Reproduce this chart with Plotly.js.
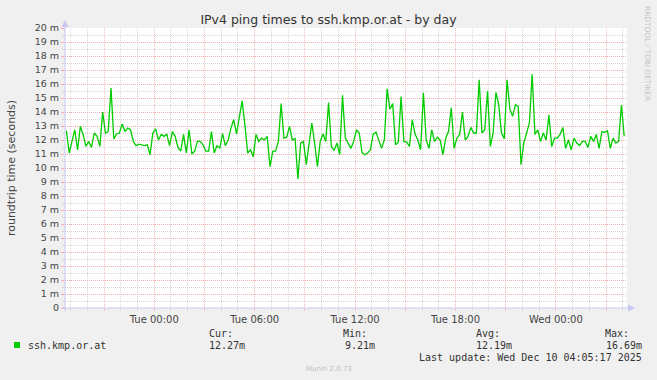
<!DOCTYPE html>
<html><head><meta charset="utf-8">
<script src="https://cdn.plot.ly/plotly-3.0.1.min.js"></script>
<style>html,body{margin:0;padding:0;background:#f0f0f0;}#chart{width:657px;height:380px;}</style>
</head><body><div id="chart"></div>
<script>
// ---- data ----
const seriesName = 'ssh.kmp.or.at';
const startUTC = Date.UTC(2025, 11, 8, 18, 45, 0); // Mon 18:45
const stepMinutes = 10;
const pingMs = [
12.67,11.07,11.9,12.73,11.3,12.97,12.4,11.55,11.9,11.47,
12.5,12.26,11.54,14.0,12.5,12.6,15.72,12.07,12.43,12.5,
13.14,12.6,12.85,12.73,11.9,11.6,11.7,11.66,11.6,11.66,
10.95,12.5,12.8,12.0,12.4,12.26,12.4,11.6,12.6,12.26,
11.47,11.2,12.4,11.07,12.73,11.0,11.2,11.9,11.9,11.66,
11.2,11.2,12.6,11.07,11.6,11.4,12.45,11.6,12.0,12.85,
13.45,12.43,13.6,14.8,13.1,11.07,11.3,10.8,12.4,11.9,
12.13,12.0,12.26,10.1,11.2,11.2,11.9,14.6,12.13,12.2,
12.97,12.0,12.1,9.21,11.78,11.9,10.24,11.78,13.2,11.78,
10.1,11.9,12.43,11.9,14.68,11.54,11.25,11.78,10.95,15.2,
12.13,11.78,11.4,11.9,12.73,12.5,11.1,10.95,11.07,11.3,
12.4,12.56,12.0,11.4,12.0,15.65,14.2,14.6,11.66,11.85,
15.1,11.9,11.85,11.54,13.45,12.43,12.0,11.3,15.37,12.0,
11.4,12.73,11.9,12.2,12.0,10.95,12.13,12.6,14.3,11.4,
12.13,12.4,14.0,12.0,12.26,12.9,12.5,12.5,16.3,12.5,
12.73,15.5,11.54,12.5,15.4,14.52,12.5,12.1,16.3,14.2,
13.7,14.52,14.4,10.24,11.78,12.5,13.2,16.69,12.4,12.73,
11.9,12.5,12.0,13.8,11.54,12.13,12.13,12.4,12.9,11.4,
12.0,11.3,12.13,11.78,11.6,11.9,11.9,11.47,12.26,11.9,
12.4,11.4,12.6,12.55,12.66,11.4,12.13,11.78,11.9,14.5,
12.27
];
const xRange = ['2025-12-08 18:40', '2025-12-10 04:15'];
const xTickVals = ['2025-12-08 21:00','2025-12-09 00:00','2025-12-09 03:00','2025-12-09 06:00','2025-12-09 09:00','2025-12-09 12:00','2025-12-09 15:00','2025-12-09 18:00','2025-12-09 21:00','2025-12-10 00:00','2025-12-10 03:00'];
const xTickText = ['','Tue 00:00','','Tue 06:00','','Tue 12:00','','Tue 18:00','','Wed 00:00',''];
const yTickVals = [0,1,2,3,4,5,6,7,8,9,10,11,12,13,14,15,16,17,18,19,20];
const yTickText = ['0','1 m','2 m','3 m','4 m','5 m','6 m','7 m','8 m','9 m','10 m','11 m','12 m','13 m','14 m','15 m','16 m','17 m','18 m','19 m','20 m'];
const statLabels = ['Cur:','Min:','Avg:','Max:'];
const statValues = ['12.27m','9.21m','12.19m','16.69m'];
const titleText = 'IPv4 ping times to ssh.kmp.or.at - by day';
const yTitle = 'roundtrip time (seconds)';
const lastUpdate = 'Last update: Wed Dec 10 04:05:17 2025';
const footer = 'Munin 2.0.73';
const sideText = 'RRDTOOL / TOBI OETIKER';

// ---- build ----
const p2=n=>String(n).padStart(2,'0');
function fmt(ms){const d=new Date(ms);
  return d.getUTCFullYear()+'-'+p2(d.getUTCMonth()+1)+'-'+p2(d.getUTCDate())+' '+p2(d.getUTCHours())+':'+p2(d.getUTCMinutes())+':00';}
const times = pingMs.map((v,i)=>fmt(startUTC + i*stepMinutes*60000));

// minor grid positions: every hour / every half unit, skipping the major positions
const xMinor=[]; for(let h=19; h<=28+24; h++){ if(h%3!==0){ xMinor.push(fmt(Date.UTC(2025,11,8,h,0,0))); } }
const yMinor=[]; for(let k=0;k<20;k++){ yMinor.push(k+0.5); }

const L=65,R=627,T=28,B=308,W=657,H=380;
const px=p=>(p-L)/(R-L), py=p=>(B-p)/(B-T);
const GREEN='#00cc00', AXIS='#c8c8f0', RED='#f4abab', REDX='#f6bcbc', GRAY='#d6d6d6';
const mono={family:'DejaVu Sans Mono',size:10,color:'#333'};

function ann(text,x,y,xa,extra){return Object.assign({text:text,xref:'paper',yref:'paper',x:px(x),y:py(y),xanchor:xa,yanchor:'middle',showarrow:false,font:mono},extra||{});}

const annotations=[
  ann(seriesName,26,345,'left'),
  ann(statLabels[0],207,333,'left'), ann(statValues[0],207,345,'left'),
  ann(statLabels[1],341,333,'left'), ann(statValues[1],377,345,'right'),
  ann(statLabels[2],474,333,'left'), ann(statValues[2],474,345,'left'),
  ann(statLabels[3],631,333,'right'), ann(statValues[3],644,345,'right'),
  ann(lastUpdate,644,357,'right'),
  ann(footer,328.5,369,'center',{font:{family:'DejaVu Sans',size:7,color:'#c0c0c0'}}),
  ann(sideText,648,53,'center',{textangle:90,font:{family:'DejaVu Sans',size:7.4,color:'#c4c4c4'}})
];

const shapes=[
  {type:'line',xref:'paper',yref:'paper',x0:px(65),x1:px(65),y0:py(311),y1:py(24),line:{color:AXIS,width:1}},
  {type:'path',xref:'paper',yref:'paper',path:'M '+px(65)+' '+py(20)+' L '+px(61.5)+' '+py(27)+' L '+px(68.5)+' '+py(27)+' Z',fillcolor:AXIS,line:{width:0}},
  {type:'line',xref:'paper',yref:'paper',x0:px(62),x1:px(630),y0:py(308),y1:py(308),line:{color:AXIS,width:1}},
  {type:'path',xref:'paper',yref:'paper',path:'M '+px(635)+' '+py(308)+' L '+px(628)+' '+py(304.5)+' L '+px(628)+' '+py(311.5)+' Z',fillcolor:AXIS,line:{width:0}},
  {type:'rect',xref:'paper',yref:'paper',x0:px(14),x1:px(20),y0:py(342),y1:py(348),fillcolor:GREEN,line:{width:0}}
];

const trace={type:'scatter',mode:'lines',x:times,y:pingMs,name:seriesName,line:{color:GREEN,width:1.3},hoverinfo:'skip'};

const layout={
  width:W,height:H,paper_bgcolor:'#f0f0f0',plot_bgcolor:'#ffffff',
  margin:{l:L,r:W-R,t:T,b:H-B,pad:0,autoexpand:false},
  font:{family:'DejaVu Sans',color:'#444'},
  showlegend:false,
  title:{text:titleText,automargin:false,font:{family:'DejaVu Sans',size:12.5,color:'#333'},x:0.5,xref:'container',y:1-19.5/H,yref:'container',yanchor:'middle'},
  xaxis:{type:'date',automargin:false,range:xRange,tickmode:'array',tickvals:xTickVals,ticktext:xTickText,
    showgrid:true,gridcolor:REDX,griddash:'1px,1px',gridwidth:1,
    ticks:'outside',ticklen:2,tickcolor:REDX,
    tickfont:{family:'DejaVu Sans',size:10,color:'#444'},
    minor:{tickmode:'array',tickvals:xMinor,showgrid:true,gridcolor:GRAY,griddash:'1px,1px',ticks:'outside',ticklen:2,tickcolor:GRAY},
    zeroline:false,showline:false,fixedrange:true},
  yaxis:{automargin:false,range:[0,20],tickmode:'array',tickvals:yTickVals,ticktext:yTickText,
    showgrid:true,gridcolor:RED,griddash:'1px,1px',gridwidth:1,
    ticks:'outside',ticklen:3,tickcolor:RED,
    tickfont:{family:'DejaVu Sans',size:9.5,color:'#444'},
    minor:{tickmode:'array',tickvals:yMinor,showgrid:true,gridcolor:GRAY,griddash:'1px,1px',ticks:'outside',ticklen:2,tickcolor:GRAY},
    title:{text:yTitle,font:{family:'DejaVu Sans',size:11,color:'#444'},standoff:16},
    zeroline:false,showline:false,fixedrange:true},
  annotations:annotations,shapes:shapes
};
Plotly.newPlot('chart',[trace],layout,{staticPlot:true,displayModeBar:false});
</script></body></html>
